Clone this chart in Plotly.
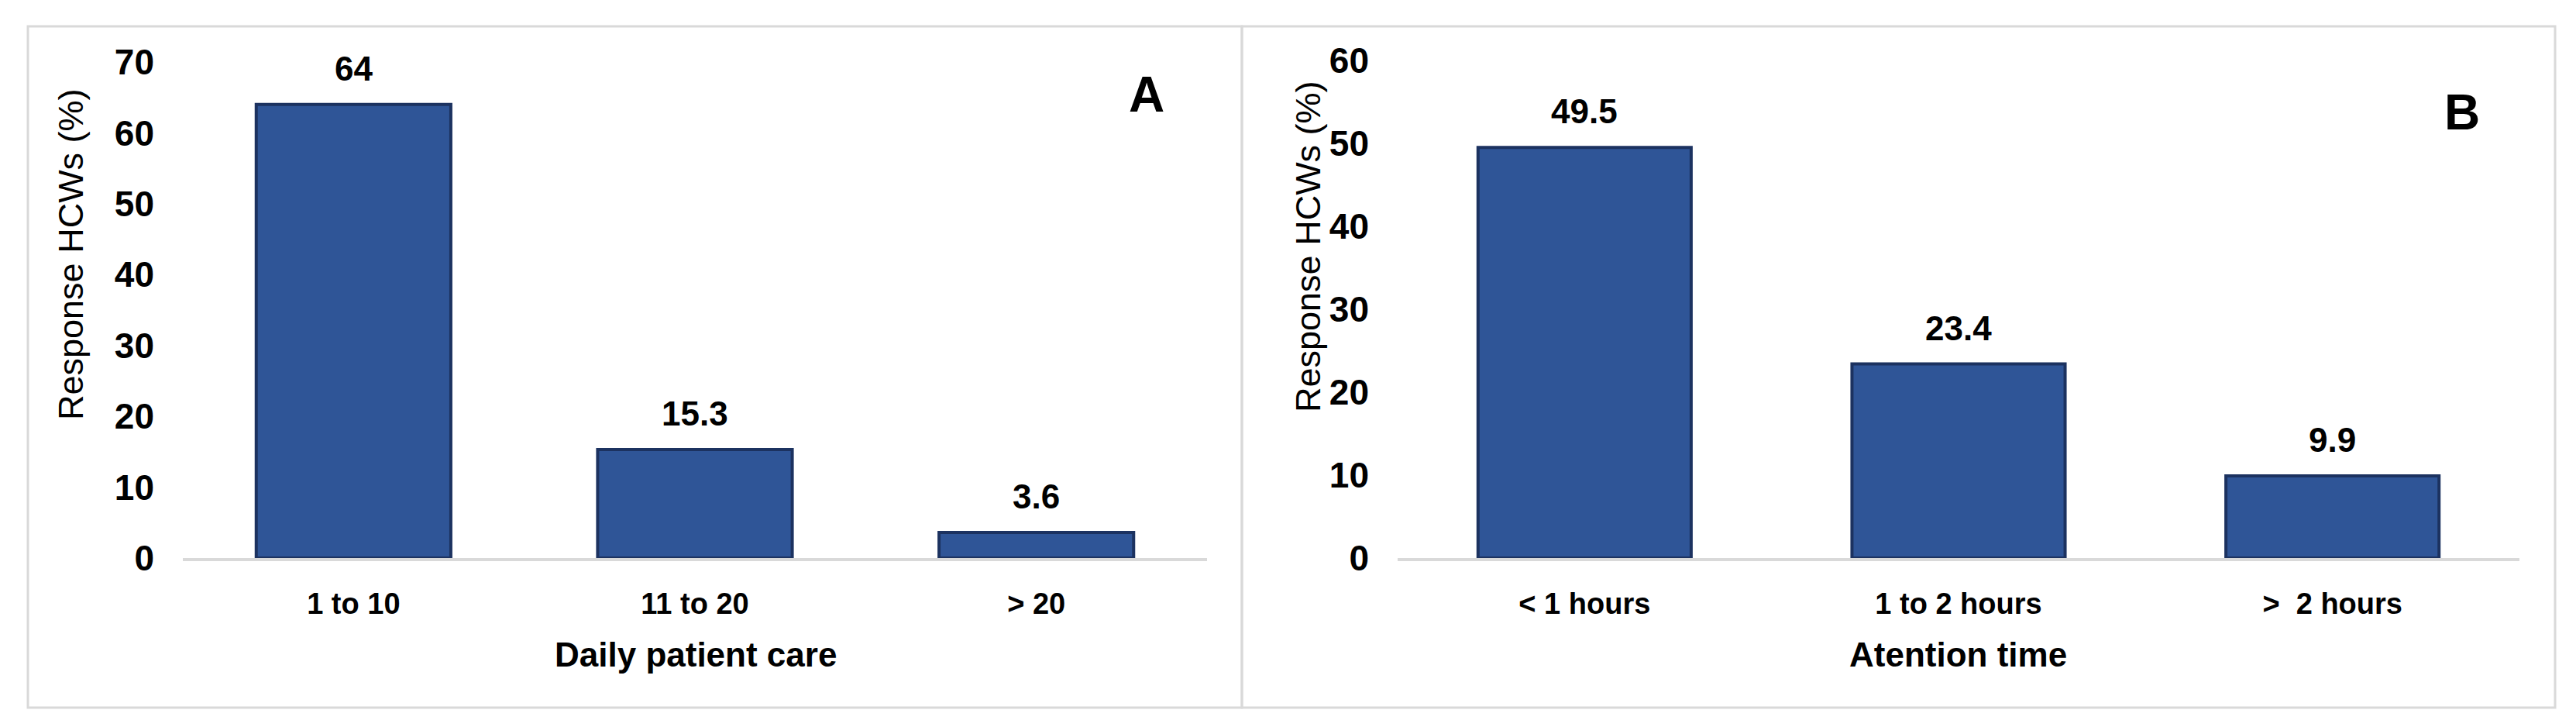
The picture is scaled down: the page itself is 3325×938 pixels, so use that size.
import plotly.graph_objects as go

W, H = 3325, 938

# ---- data ----
cats_a = ["1 to 10", "11 to 20", "> 20"]
vals_a = [64, 15.3, 3.6]
labels_a = ["64", "15.3", "3.6"]
ticks_a = [0, 10, 20, 30, 40, 50, 60, 70]

cats_b = ["< 1 hours", "1 to 2 hours", ">  2 hours"]
vals_b = [49.5, 23.4, 9.9]
labels_b = ["49.5", "23.4", "9.9"]
ticks_b = [0, 10, 20, 30, 40, 50, 60]

xtitle_a = "Daily patient care"
xtitle_b = "Atention time"
ytitle = "Response HCWs (%)"

FONT = "Arial, Liberation Sans, sans-serif"
BAR = "#2F5597"
EDGE = "#1C3260"
GRAY = "#D9D9D9"


def px(x):
    return x / W


def py(y):
    return 1 - y / H


fig = go.Figure()
fig.add_trace(go.Bar(x=cats_a, y=vals_a, xaxis="x", yaxis="y",
                     marker=dict(color=BAR, line=dict(color=EDGE, width=4)),
                     width=0.57, showlegend=False, hoverinfo="x+y"))
fig.add_trace(go.Bar(x=cats_b, y=vals_b, xaxis="x2", yaxis="y2",
                     marker=dict(color=BAR, line=dict(color=EDGE, width=4)),
                     width=0.57, showlegend=False, hoverinfo="x+y"))

ytick_font = dict(family=FONT, size=46, color="black", weight="bold")
xtick_font = dict(family=FONT, size=38, color="black", weight="bold")

common_x = dict(showgrid=False, zeroline=False, showline=True, linecolor=GRAY,
                linewidth=4, ticks="", tickfont=xtick_font, ticklabelstandoff=22,
                fixedrange=True, automargin=False)
common_y = dict(showgrid=False, zeroline=False, showline=False, ticks="",
                tickfont=ytick_font, ticklabelstandoff=36, fixedrange=True,
                automargin=False)

fig.update_layout(
    template="none",
    width=W, height=H, autosize=False,
    margin=dict(l=0, r=0, t=0, b=0, pad=0),
    paper_bgcolor="white", plot_bgcolor="white",
    font=dict(family=FONT, color="black"),
    xaxis=dict(domain=[px(236), px(1558)], anchor="y", **common_x),
    yaxis=dict(domain=[py(720), py(80)], range=[0, 70], tickvals=ticks_a,
               anchor="x", **common_y),
    xaxis2=dict(domain=[px(1804), px(3252)], anchor="y2", **common_x),
    yaxis2=dict(domain=[py(720), py(78)], range=[0, 60], tickvals=ticks_b,
                anchor="x2", **common_y),
)

annotations = []
label_font = dict(family=FONT, size=44, color="black", weight="bold")
for c, v, t in zip(cats_a, vals_a, labels_a):
    annotations.append(dict(x=c, y=v, xref="x", yref="y", text=t, showarrow=False,
                            yanchor="bottom", yshift=20, font=label_font))
for c, v, t in zip(cats_b, vals_b, labels_b):
    annotations.append(dict(x=c, y=v, xref="x2", yref="y2", text=t, showarrow=False,
                            yanchor="bottom", yshift=20, font=label_font))

title_font = dict(family=FONT, size=44, color="black", weight="bold")
annotations += [
    dict(x=px(898), y=py(844), xref="paper", yref="paper", text=xtitle_a,
         showarrow=False, xanchor="center", yanchor="middle", font=title_font),
    dict(x=px(2527), y=py(844), xref="paper", yref="paper", text=xtitle_b,
         showarrow=False, xanchor="center", yanchor="middle", font=title_font),
    dict(x=px(92), y=py(328), xref="paper", yref="paper", text=ytitle, textangle=-90,
         showarrow=False, xanchor="center", yanchor="middle",
         font=dict(family=FONT, size=45, color="black")),
    dict(x=px(1688), y=py(318), xref="paper", yref="paper", text=ytitle, textangle=-90,
         showarrow=False, xanchor="center", yanchor="middle",
         font=dict(family=FONT, size=45, color="black")),
    dict(x=px(1480), y=py(122), xref="paper", yref="paper", text="A",
         showarrow=False, xanchor="center", yanchor="middle",
         font=dict(family=FONT, size=64, color="black", weight="bold")),
    dict(x=px(3178), y=py(145), xref="paper", yref="paper", text="B",
         showarrow=False, xanchor="center", yanchor="middle",
         font=dict(family=FONT, size=64, color="black", weight="bold")),
]
fig.update_layout(annotations=annotations)

fig.update_layout(shapes=[
    dict(type="rect", xref="paper", yref="paper", x0=px(36), x1=px(1603),
         y0=py(913), y1=py(34), line=dict(color=GRAY, width=3), layer="below"),
    dict(type="rect", xref="paper", yref="paper", x0=px(1603), x1=px(3298),
         y0=py(913), y1=py(34), line=dict(color=GRAY, width=3), layer="below"),
])

fig.write_html("out.html", config={"displayModeBar": False},
               post_script="document.body.style.margin='0';")
